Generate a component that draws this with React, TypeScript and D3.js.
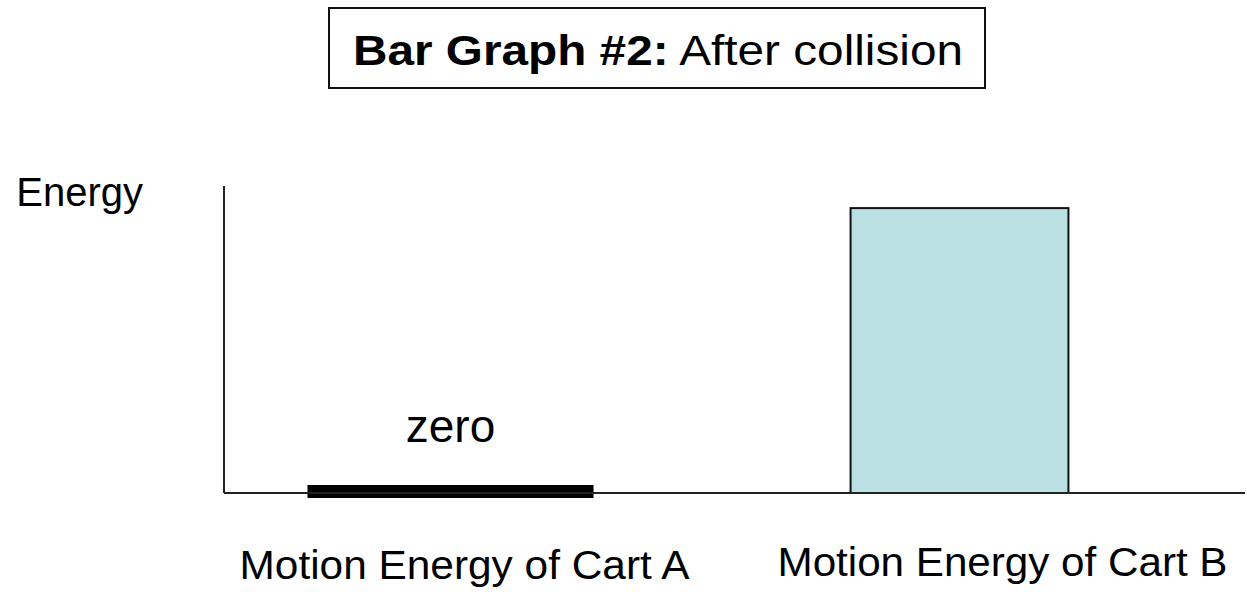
import React, { useEffect, useRef } from 'react'
import { select, scaleBand, scaleLinear } from 'd3'

// data
const categories = ['Motion Energy of Cart A', 'Motion Energy of Cart B']
const energyValues = [0, 0.928]
const valueLabels = ['zero', '']
const titleBold = 'Bar Graph #2:'
const titleRest = ' After collision'
const yAxisLabel = 'Energy'

const W = 1247
const H = 592
const font = '"Liberation Sans", Arial, sans-serif'

export default function App() {
    const ref = useRef<SVGSVGElement>(null)

    useEffect(() => {
        const svg = select(ref.current)
        svg.selectAll('*').remove()

        const axisX = 224
        const axisTop = 186
        const axisBottom = 493
        const axisRight = 1245

        const xScale = scaleBand<string>().domain(categories).range([196, 1214]).padding(0)
        const yScale = scaleLinear().domain([0, 1]).range([axisBottom, axisTop])

        // bar widths as fraction of band, and label offsets
        const barFrac = [0.562, 0.428]
        const labelShift = [14, 43]
        const labelBase = [579, 576]

        // title box
        svg.append('rect')
            .attr('x', 329).attr('y', 8)
            .attr('width', 656).attr('height', 80)
            .attr('fill', 'white').attr('stroke', '#111').attr('stroke-width', 2)

        const title = svg.append('text')
            .attr('x', 353).attr('y', 65)
            .attr('font-family', font).attr('font-size', 42)
            .attr('textLength', 610).attr('lengthAdjust', 'spacingAndGlyphs')
        title.append('tspan').attr('font-weight', 'bold').text(titleBold)
        title.append('tspan').text(titleRest)

        // y label
        svg.append('text')
            .attr('x', 143).attr('y', 206)
            .attr('text-anchor', 'end')
            .attr('font-family', font).attr('font-size', 40)
            .text(yAxisLabel)

        // bars
        categories.forEach((c, i) => {
            const bw = xScale.bandwidth() * barFrac[i]
            const cx = (xScale(c) || 0) + xScale.bandwidth() / 2
            const v = energyValues[i]
            if (v === 0) {
                // zero bar drawn as a thick black line on the axis
                svg.append('rect')
                    .attr('x', cx - bw / 2).attr('y', yScale(0) - 8)
                    .attr('width', bw).attr('height', 13)
                    .attr('fill', '#000')
            } else {
                svg.append('rect')
                    .attr('x', cx - bw / 2).attr('y', yScale(v))
                    .attr('width', bw).attr('height', yScale(0) - yScale(v))
                    .attr('fill', '#BBE0E3').attr('stroke', '#111').attr('stroke-width', 2)
            }
            if (valueLabels[i]) {
                svg.append('text')
                    .attr('x', cx).attr('y', 442)
                    .attr('text-anchor', 'middle')
                    .attr('font-family', font).attr('font-size', 46)
                    .text(valueLabels[i])
            }
            svg.append('text')
                .attr('x', cx + labelShift[i]).attr('y', labelBase[i])
                .attr('text-anchor', 'middle')
                .attr('font-family', font).attr('font-size', 40)
                .attr('textLength', 450).attr('lengthAdjust', 'spacingAndGlyphs')
                .text(c)
        })

        // axes
        svg.append('line')
            .attr('x1', axisX).attr('x2', axisX)
            .attr('y1', axisTop).attr('y2', axisBottom)
            .attr('stroke', '#222').attr('stroke-width', 2)
        svg.append('line')
            .attr('x1', axisX).attr('x2', axisRight)
            .attr('y1', axisBottom).attr('y2', axisBottom)
            .attr('stroke', '#222').attr('stroke-width', 2)
    }, [])

    return (
        <svg ref={ref} width={W} height={H}
             style={{ position: 'absolute', left: 0, top: 0, background: 'white' }} />
    )
}
